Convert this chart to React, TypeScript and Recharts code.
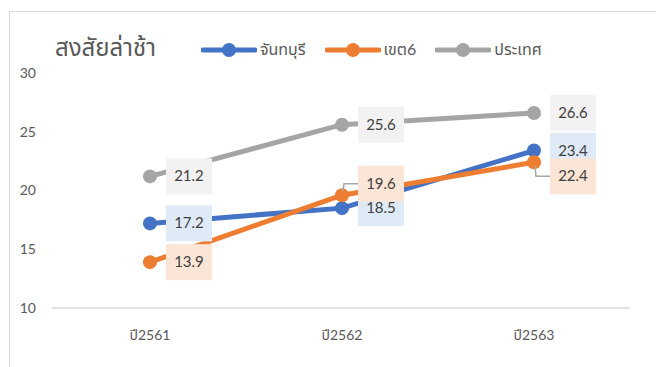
import { ReactElement } from "react";
import { LabelList, Line, LineChart, XAxis, YAxis } from "recharts";

const years = ["ปี2561", "ปี2562", "ปี2563"];
const chanthaburi = [17.2, 18.5, 23.4];
const region6 = [13.9, 19.6, 22.4];
const country = [21.2, 25.6, 26.6];
const yTicks = [10, 15, 20, 25, 30];

// vertical shift of the orange data label boxes (px); non-zero gets a leader line
const region6Shift = [0, -11.5, 14];

const BLUE = "#4472C4";
const ORANGE = "#ED7D31";
const GRAY = "#A5A5A5";
const FONT = "Lato, 'Noto Sans Thai', Tahoma, sans-serif";

const data = years.map((year, i) => ({
  year,
  chanthaburi: chanthaburi[i],
  region6: region6[i],
  country: country[i],
}));

function makeLabel(fill: string, shifts?: number[]) {
  return (props: any): ReactElement => {
    const { x, y, value, index } = props;
    const shift = shifts ? shifts[index] : 0;
    const bx = x + 16;
    const cy = y + shift;
    return (
      <g>
        {shift !== 0 && (
          <polyline
            points={`${x + 1},${y + (shift < 0 ? -4 : 4)} ${x + 2},${cy} ${bx},${cy}`}
            fill="none"
            stroke="#A6A6A6"
            strokeWidth={1.5}
          />
        )}
        <rect x={bx} y={cy - 18} width={46} height={36} fill={fill} />
        <text
          x={bx + 23}
          y={cy + 5}
          textAnchor="middle"
          fontSize={15}
          fill="#404040"
          fontFamily={FONT}
        >
          {Number(value).toFixed(1)}
        </text>
      </g>
    );
  };
}

function LegendItem({ color, label }: { color: string; label: string }): ReactElement {
  return (
    <span style={{ display: "inline-flex", alignItems: "center", marginRight: 19 }}>
      <svg width={56} height={16}>
        <line x1={2} y1={8} x2={54} y2={8} stroke={color} strokeWidth={5} strokeLinecap="round" />
        <circle cx={28} cy={8} r={7} fill={color} />
      </svg>
      <span style={{ marginLeft: 3 }}>{label}</span>
    </span>
  );
}

export default function App(): ReactElement {
  return (
    <div style={{ position: "absolute", left: 0, top: 0, width: 656, height: 367, overflow: "hidden", background: "#fff", fontFamily: FONT }}>
      <div
        style={{
          position: "absolute",
          left: 9,
          top: 11,
          width: 700,
          height: 400,
          border: "1.5px solid #D9D9D9",
        }}
      />
      <div style={{ position: "absolute", left: 55, top: 31, fontSize: 24, color: "#595959" }}>
        สงสัยล่าช้า
      </div>
      <div
        style={{
          position: "absolute",
          left: 201,
          top: 38,
          fontSize: 16,
          color: "#595959",
          display: "flex",
          alignItems: "center",
          whiteSpace: "nowrap",
        }}
      >
        <LegendItem color={BLUE} label="จันทบุรี" />
        <LegendItem color={ORANGE} label="เขต6" />
        <LegendItem color={GRAY} label="ประเทศ" />
      </div>
      <LineChart
        width={656}
        height={367}
        data={data}
        margin={{ top: 73, right: 26, bottom: 29, left: 8 }}
        style={{ position: "absolute", left: 0, top: 0 }}
      >
        <XAxis
          dataKey="year"
          height={30}
          padding={{ left: 98, right: 96 }}
          axisLine={{ stroke: "#D9D9D9", strokeWidth: 1.5 }}
          tickLine={false}
          tickMargin={16}
          tick={{ fill: "#595959", fontSize: 14, fontFamily: FONT }}
        />
        <YAxis
          width={44}
          domain={[10, 30]}
          ticks={yTicks}
          axisLine={false}
          tickLine={false}
          tick={{ fill: "#595959", fontSize: 14, fontFamily: FONT, dx: -8 }}
        />
        <Line
          dataKey="chanthaburi"
          stroke={BLUE}
          strokeWidth={5}
          dot={{ r: 7, fill: BLUE, stroke: BLUE, strokeWidth: 0 }}
          activeDot={false}
          isAnimationActive={false}
        />
        <Line
          dataKey="region6"
          stroke={ORANGE}
          strokeWidth={5}
          dot={{ r: 7, fill: ORANGE, stroke: ORANGE, strokeWidth: 0 }}
          activeDot={false}
          isAnimationActive={false}
        />
        <Line
          dataKey="country"
          stroke={GRAY}
          strokeWidth={5}
          dot={{ r: 7, fill: GRAY, stroke: GRAY, strokeWidth: 0 }}
          activeDot={false}
          isAnimationActive={false}
        />
        <Line dataKey="chanthaburi" stroke="none" dot={false} activeDot={false} isAnimationActive={false}>
          <LabelList dataKey="chanthaburi" content={makeLabel("#DEEBF7")} />
        </Line>
        <Line dataKey="region6" stroke="none" dot={false} activeDot={false} isAnimationActive={false}>
          <LabelList dataKey="region6" content={makeLabel("#FBE5D6", region6Shift)} />
        </Line>
        <Line dataKey="country" stroke="none" dot={false} activeDot={false} isAnimationActive={false}>
          <LabelList dataKey="country" content={makeLabel("#F2F2F2")} />
        </Line>
      </LineChart>
    </div>
  );
}
